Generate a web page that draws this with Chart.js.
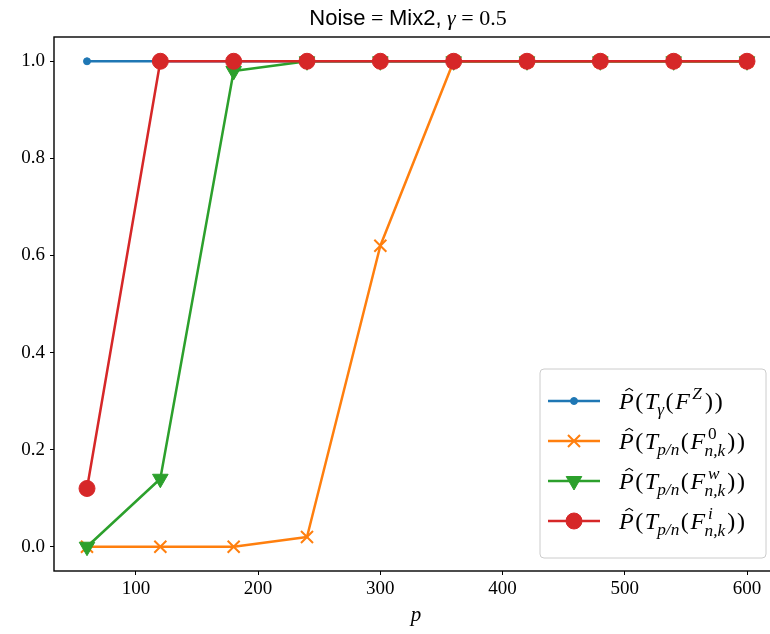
<!DOCTYPE html>
<html>
<head>
<meta charset="utf-8">
<script src="https://cdn.jsdelivr.net/npm/chart.js@4.4.0/dist/chart.umd.min.js"></script>
<style>
html,body{margin:0;padding:0;background:#fff;overflow:hidden;}
#wrap{width:770px;height:634px;overflow:hidden;position:relative;}
#c{position:absolute;left:0;top:0;}
</style>
</head>
<body>
<div id="wrap"><canvas id="c" width="800" height="634" style="width:800px;height:634px"></canvas></div>
<script>
// ---- data ----
const pValues = [60, 120, 180, 240, 300, 360, 420, 480, 540, 600];
const seriesZ = [1, 1, 1, 1, 1, 1, 1, 1, 1, 1];
const series0 = [0, 0, 0, 0.02, 0.62, 1, 1, 1, 1, 1];
const seriesW = [0, 0.14, 0.98, 1, 1, 1, 1, 1, 1, 1];
const seriesI = [0.12, 1, 1, 1, 1, 1, 1, 1, 1, 1];
const xTicks = [100, 200, 300, 400, 500, 600];
const yTicks = [0.0, 0.2, 0.4, 0.6, 0.8, 1.0];

const C_BLUE = '#1f77b4', C_ORANGE = '#ff7f0e', C_GREEN = '#2ca02c', C_RED = '#d62728';
const SERIF = '"Liberation Serif", "DejaVu Serif", serif';
const SANS = '"Liberation Sans", "DejaVu Sans", sans-serif';

function pts(arr) { return pValues.map((x, i) => ({x: x, y: arr[i]})); }

function font(style, size, fam) { return (style === 'i' ? 'italic ' : '') + size + 'px ' + (fam || SERIF); }
function drawParts(ctx, x, y, parts, base, fam, defGap) {
  ctx.textBaseline = 'alphabetic';
  ctx.textAlign = 'left';
  const g0 = defGap || 0;
  for (const p of parts) {
    if (p.supsub) {
      const s = base * 0.72;
      ctx.font = font(p.supsub[0].f, s, fam);
      const w1 = ctx.measureText(p.supsub[0].t).width;
      ctx.fillText(p.supsub[0].t, x + 3, y - base * 0.42);
      ctx.font = font(p.supsub[1].f, s, fam);
      const w2 = ctx.measureText(p.supsub[1].t).width;
      ctx.fillText(p.supsub[1].t, x - 0.5, y + base * 0.3);
      x += Math.max(w1 + 3, w2 - 0.5) + g0 + 0.5;
      continue;
    }
    const size = p.sub || p.sup ? base * 0.72 : base;
    const pf = p.fam || fam;
    ctx.font = font(p.f, size, pf);
    let dx = p.dx || 0;
    let dy = p.sub ? base * 0.25 : (p.sup ? -base * 0.42 : 0);
    ctx.fillText(p.t, x + dx, y + dy);
    const w = ctx.measureText(p.t).width;
    if (p.hat) {
      const cx = x + w / 2 + base * 0.12, ty = y - base * 0.86;
      ctx.save();
      ctx.strokeStyle = ctx.fillStyle; ctx.lineWidth = 1.1;
      ctx.beginPath();
      ctx.moveTo(cx - base * 0.16, ty + base * 0.1);
      ctx.lineTo(cx, ty);
      ctx.lineTo(cx + base * 0.16, ty + base * 0.1);
      ctx.stroke();
      ctx.restore();
    }
    x += w + dx + (p.gap !== undefined ? p.gap : g0);
  }
  return x;
}

const labelParts = [
  [{t:'P',f:'i',hat:true},{t:'(',f:'r'},{t:'T',f:'i',gap:0},{t:'γ',f:'i',sub:true,dx:-1},{t:'(',f:'r'},{t:'F',f:'i',gap:0},{t:'Z',f:'i',sup:true,dx:2.5},{t:')',f:'r',dx:1.5},{t:')',f:'r'}],
  [{t:'P',f:'i',hat:true},{t:'(',f:'r'},{t:'T',f:'i',gap:0},{t:'p/n',f:'i',sub:true,dx:-1},{t:'(',f:'r'},{t:'F',f:'i',gap:0},{supsub:[{t:'0',f:'r'},{t:'n,k',f:'i'}]},{t:')',f:'r'},{t:')',f:'r'}],
  [{t:'P',f:'i',hat:true},{t:'(',f:'r'},{t:'T',f:'i',gap:0},{t:'p/n',f:'i',sub:true,dx:-1},{t:'(',f:'r'},{t:'F',f:'i',gap:0},{supsub:[{t:'w',f:'i'},{t:'n,k',f:'i'}]},{t:')',f:'r'},{t:')',f:'r'}],
  [{t:'P',f:'i',hat:true},{t:'(',f:'r'},{t:'T',f:'i',gap:0},{t:'p/n',f:'i',sub:true,dx:-1},{t:'(',f:'r'},{t:'F',f:'i',gap:0},{supsub:[{t:'i',f:'i'},{t:'n,k',f:'i'}]},{t:')',f:'r'},{t:')',f:'r'}]
];

const decor = {
  id: 'decor',
  afterDraw(chart) {
    const ctx = chart.ctx, a = chart.chartArea;
    ctx.save();
    ctx.strokeStyle = '#000'; ctx.lineWidth = 1.4;
    ctx.strokeRect(a.left, a.top, a.right - a.left, a.bottom - a.top);
    // title
    ctx.fillStyle = '#000';
    const tparts = [
      {t:'Noise', f:'r', fam:SANS}, {t:' = ', f:'r', fam:SERIF}, {t:'Mix2,', f:'r', fam:SANS},
      {t:' γ', f:'i', fam:SERIF}, {t:' = 0.5', f:'r', fam:SERIF}
    ];
    const ts = 22;
    let w = 0;
    for (const p of tparts) { ctx.font = font(p.f, ts, p.fam); w += ctx.measureText(p.t).width; }
    drawParts(ctx, 408 - w / 2, 25, tparts, ts, SERIF, 0);
    // x axis title
    ctx.font = font('i', 21, SERIF);
    ctx.textAlign = 'center';
    ctx.fillText('p', 416, 621);
    // legend
    const bx = 540, by = 369, bw = 226, bh = 189, r = 4;
    ctx.beginPath();
    ctx.moveTo(bx + r, by);
    ctx.arcTo(bx + bw, by, bx + bw, by + bh, r);
    ctx.arcTo(bx + bw, by + bh, bx, by + bh, r);
    ctx.arcTo(bx, by + bh, bx, by, r);
    ctx.arcTo(bx, by, bx + bw, by, r);
    ctx.closePath();
    ctx.fillStyle = 'rgba(255,255,255,0.8)';
    ctx.fill();
    ctx.strokeStyle = '#cccccc'; ctx.lineWidth = 1;
    ctx.stroke();
    const ds = chart.data.datasets;
    const rows = [401, 441, 481, 521];
    ds.forEach((d, i) => {
      const yy = rows[i];
      ctx.strokeStyle = d.borderColor; ctx.lineWidth = d.borderWidth;
      ctx.beginPath(); ctx.moveTo(548, yy); ctx.lineTo(600, yy); ctx.stroke();
      ctx.fillStyle = d.pointBackgroundColor;
      ctx.strokeStyle = d.pointBorderColor;
      ctx.lineWidth = d.pointBorderWidth;
      Chart.helpers.drawPoint(ctx, {pointStyle: d.pointStyle, rotation: d.pointRotation || 0, radius: d.pointRadius, borderWidth: d.pointBorderWidth}, 574, yy);
      ctx.fillStyle = '#000';
      drawParts(ctx, 619, yy + 8, labelParts[i], 24, SERIF, 1.6);
    });
    ctx.restore();
  }
};

new Chart(document.getElementById('c'), {
  type: 'line',
  data: {
    datasets: [
      {label: 'Z', data: pts(seriesZ), borderColor: C_BLUE, backgroundColor: C_BLUE, borderWidth: 2.5,
       pointStyle: 'circle', pointRadius: 3.5, pointBackgroundColor: C_BLUE, pointBorderColor: C_BLUE, pointBorderWidth: 1, order: 3},
      {label: '0', data: pts(series0), borderColor: C_ORANGE, backgroundColor: C_ORANGE, borderWidth: 2.5,
       pointStyle: 'crossRot', pointRadius: 8.5, pointBackgroundColor: C_ORANGE, pointBorderColor: C_ORANGE, pointBorderWidth: 2, order: 2},
      {label: 'w', data: pts(seriesW), borderColor: C_GREEN, backgroundColor: C_GREEN, borderWidth: 2.5,
       pointStyle: 'triangle', pointRotation: 180, pointRadius: 9, pointBackgroundColor: C_GREEN, pointBorderColor: C_GREEN, pointBorderWidth: 1, order: 1},
      {label: 'i', data: pts(seriesI), borderColor: C_RED, backgroundColor: C_RED, borderWidth: 2.5,
       pointStyle: 'circle', pointRadius: 8, pointBackgroundColor: C_RED, pointBorderColor: C_RED, pointBorderWidth: 1, order: 0}
    ]
  },
  options: {
    responsive: false,
    animation: false,
    events: [],
    layout: {padding: {left: 0, right: 20, top: 37, bottom: 0}},
    elements: {line: {tension: 0, borderCapStyle: 'butt', borderJoinStyle: 'round'}},
    plugins: {legend: {display: false}, title: {display: false}, tooltip: {enabled: false}},
    scales: {
      x: {
        type: 'linear', min: 33, max: 627,
        afterBuildTicks: s => { s.ticks = xTicks.map(v => ({value: v})); },
        afterFit: s => { s.height = 63; },
        grid: {drawOnChartArea: false, drawTicks: true, tickLength: 4, color: '#000', tickWidth: 1},
        border: {display: false},
        ticks: {color: '#000', font: {family: SERIF, size: 19}, padding: 3, maxRotation: 0,
                callback: v => String(v)}
      },
      y: {
        type: 'linear', min: -0.05, max: 1.05,
        afterBuildTicks: s => { s.ticks = yTicks.map(v => ({value: v})); },
        afterFit: s => { s.width = 54; },
        grid: {drawOnChartArea: false, drawTicks: true, tickLength: 4, color: '#000', tickWidth: 1},
        border: {display: false},
        ticks: {color: '#000', font: {family: SERIF, size: 19}, padding: 5,
                callback: v => v.toFixed(1)}
      }
    }
  },
  plugins: [decor]
});
</script>
</body>
</html>
